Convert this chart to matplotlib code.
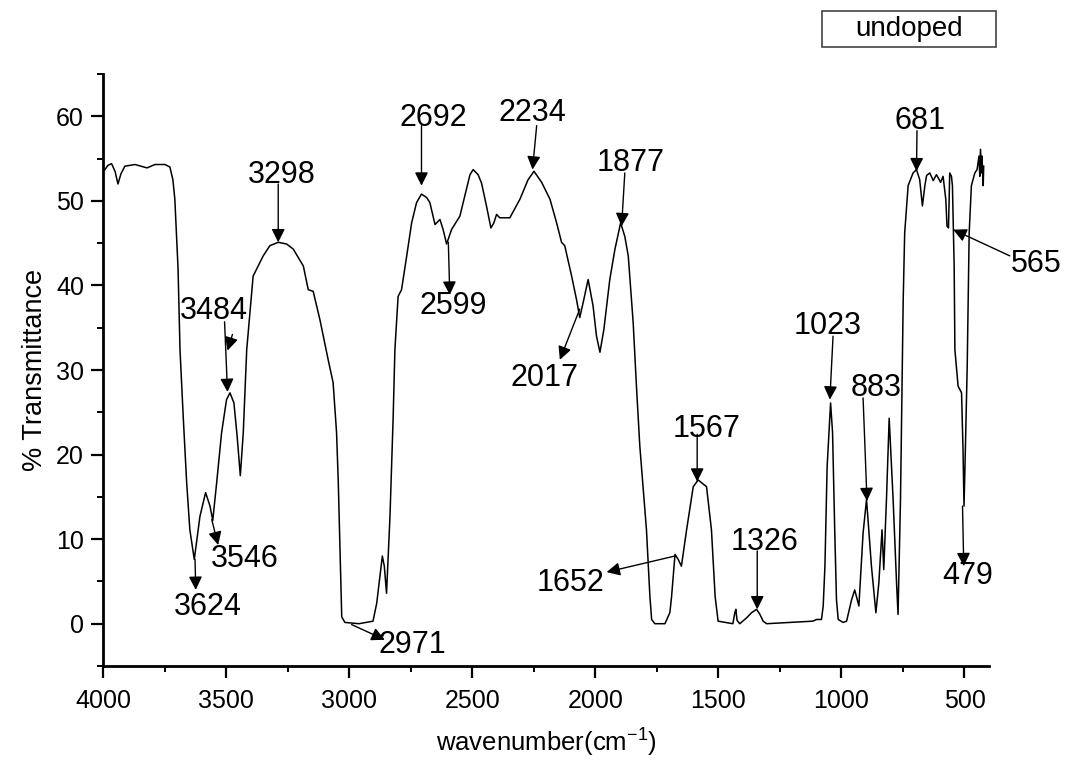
import matplotlib
matplotlib.use("Agg")
import matplotlib.pyplot as plt
from matplotlib.ticker import MultipleLocator
from matplotlib.patches import Rectangle

plt.rcParams['font.family'] = ['Liberation Sans', 'DejaVu Sans']
plt.rcParams['mathtext.fontset'] = 'custom'
plt.rcParams['mathtext.rm'] = 'Liberation Sans'
plt.rcParams['mathtext.it'] = 'Liberation Sans'

# FTIR spectrum (wavenumber cm^-1, % transmittance)
wavenumber = [3992, 3980, 3965, 3951, 3939, 3927, 3911, 3870, 3821, 3789, 3748, 3728, 3716, 3708,
              3695, 3687, 3674, 3660, 3647, 3629, 3606, 3583, 3565, 3554, 3538, 3518, 3498, 3484,
              3468, 3455, 3442, 3430, 3416, 3390, 3349, 3322, 3288, 3254, 3227, 3186, 3166, 3146,
              3119, 3085, 3065, 3051, 3044, 3037, 3030, 3017, 2960, 2903, 2888, 2875, 2865, 2857,
              2848, 2834, 2821, 2814, 2801, 2787, 2766, 2746, 2726, 2706, 2685, 2672, 2651, 2631,
              2618, 2604, 2584, 2550, 2530, 2509, 2496, 2476, 2462, 2442, 2424, 2412, 2401, 2388,
              2347, 2306, 2273, 2249, 2218, 2184, 2157, 2137, 2124, 2096, 2076, 2063, 2049, 2029,
              2009, 1995, 1981, 1965, 1941, 1920, 1897, 1880, 1866, 1846, 1832, 1819, 1792, 1778,
              1771, 1758, 1717, 1697, 1690, 1676, 1663, 1650, 1629, 1602, 1582, 1548, 1528, 1513,
              1501, 1441, 1433, 1429, 1424, 1413, 1385, 1365, 1345, 1331, 1318, 1304, 1116, 1101,
              1081, 1074, 1067, 1058, 1044, 1036, 1027, 1020, 1013, 993, 979, 959, 946, 929, 912,
              898, 878, 860, 848, 835, 828, 817, 806, 790, 776, 770, 760, 749, 743, 729, 709, 695,
              682, 671, 661, 654, 641, 627, 614, 597, 587, 576, 571, 565, 560, 553, 549, 542, 539,
              526, 512, 506, 502, 498, 489, 485, 481, 472, 458, 449, 441, 438, 435, 431, 429, 424, 422]
transmittance = [53.7, 54.2, 54.4, 53.5, 52.0, 53.2, 54.1, 54.3, 53.9, 54.3, 54.3, 54.0, 52.5, 50.2,
                 42.0, 32.4, 24.5, 16.7, 11.1, 7.6, 12.7, 15.5, 13.9, 12.2, 16.7, 22.6, 26.5, 27.3,
                 26.1, 22.2, 17.5, 22.6, 32.4, 41.1, 43.5, 44.7, 45.1, 44.9, 44.3, 42.3, 39.5, 39.3,
                 36.0, 31.2, 28.5, 22.6, 16.7, 8.8, 0.8, 0.15, 0.0, 0.3, 2.4, 5.6, 8.0, 6.8,
                 3.6, 12.7, 24.5, 32.4, 38.7, 39.5, 43.5, 47.4, 49.8, 50.8, 50.4, 49.8, 47.2, 47.8,
                 46.6, 44.9, 46.6, 48.2, 50.6, 53.1, 53.7, 53.1, 52.1, 49.4, 46.8, 47.4, 48.4, 48.0,
                 48.0, 50.2, 52.5, 53.5, 52.2, 50.2, 47.4, 45.1, 44.7, 41.1, 38.3, 36.2, 38.0, 40.7,
                 37.6, 34.0, 32.1, 34.8, 40.7, 44.3, 47.4, 45.8, 43.5, 35.6, 27.7, 21.0, 11.1, 3.2,
                 0.5, 0.0, 0.0, 1.3, 3.2, 8.2, 7.6, 6.8, 11.1, 16.2, 17.0, 16.2, 11.1, 3.2,
                 0.3, 0.0, 1.3, 1.7, 0.4, 0.0, 0.7, 1.3, 1.7, 1.1, 0.3, 0.0, 0.3, 0.5,
                 0.5, 2.1, 6.8, 18.6, 26.1, 22.6, 10.8, 2.8, 0.5, 0.15, 0.3, 2.8, 4.0, 2.1, 10.7,
                 14.7, 6.8, 1.3, 4.8, 11.1, 6.4, 14.7, 24.3, 14.7, 4.8, 1.1, 14.7, 38.3, 46.2, 51.8, 53.3, 53.7,
                 52.5, 49.4, 51.8, 53.0, 53.3, 52.4, 53.1, 52.2, 52.9, 50.2, 47.0, 46.8, 53.3, 52.9, 51.8, 42.3, 32.4,
                 28.1, 27.3, 20.6, 13.9, 18.6, 30.4, 38.3, 46.2, 51.8, 53.3, 53.7, 55.3, 52.9, 56.1, 53.3, 55.3, 51.8, 54.1]

# peak labels: text, text position, arrow start, arrow tip (data coords)
peak_labels = ['3298', '3484', '3546', '3624', '2971', '2692', '2599', '2234', '1877',
               '2017', '1567', '1652', '1326', '1023', '883', '479', '565', '681']
label_xy = [(3275, 53.1), (3549, 37.0), (3423, 7.6), (3574, 2.0), (2745, -2.5), (2656, 59.8),
            (2578, 37.6), (2257, 60.4), (1855, 54.5), (2205, 29.1), (1548, 23.0), (2099, 4.8),
            (1311, 9.7), (1055, 35.2), (860, 27.9), (487, 5.6), (210, 42.5), (682, 59.4)]
arrow_from = [(3288, 52.0), (3506, 35.7), (3558, 12.3), (3626, 7.6), (2990, -0.1), (2706, 58.9),
              (2597, 45.1), (2238, 58.9), (1880, 53.3), (2063, 37.2), (1586, 22.4), (1677, 8.0),
              (1342, 8.6), (1034, 34.0), (912, 26.7), (508, 13.9), (316, 43.5), (693, 58.3)]
arrow_to = [(3288, 45.1), (3494, 27.4), (3532, 9.3), (3623, 4.0), (2855, -1.9), (2706, 51.8),
            (2591, 38.9), (2255, 53.7), (1893, 47.0), (2144, 31.2), (1586, 16.8), (1954, 6.1),
            (1342, 1.7), (1047, 26.5), (896, 14.5), (503, 6.8), (546, 46.6), (695, 53.5)]

fig = plt.figure(figsize=(10.67, 7.6), dpi=100)
ax = fig.add_axes([0.0965, 0.1237, 0.8305, 0.7789])
ax.plot(wavenumber, transmittance, color='black', lw=1.1)

ax.set_xlim(4000, 400)
ax.set_ylim(-5, 65)
ax.xaxis.set_major_locator(MultipleLocator(500))
ax.xaxis.set_minor_locator(MultipleLocator(250))
ax.yaxis.set_major_locator(MultipleLocator(10))
ax.yaxis.set_minor_locator(MultipleLocator(5))
for s in ['top', 'right']:
    ax.spines[s].set_visible(False)
for s in ['left', 'bottom']:
    ax.spines[s].set_linewidth(2.0)
ax.tick_params(axis='both', which='major', direction='out', length=8.6, width=1.6, labelsize=18, pad=5)
ax.tick_params(axis='x', which='major', pad=8)
ax.tick_params(axis='both', which='minor', direction='out', length=4.5, width=1.4)

ax.set_xlabel('wavenumber(cm$^{\\mathrm{-1}}$)', fontsize=18.5, labelpad=10)
ax.set_ylabel('% Transmittance', fontsize=19.5, labelpad=6)

for lab, t, a0, a1 in zip(peak_labels, label_xy, arrow_from, arrow_to):
    ax.text(t[0], t[1], lab, fontsize=22, ha='center', va='center', clip_on=False)
    ax.annotate('', xy=a1, xytext=a0,
                arrowprops=dict(arrowstyle='-|>', color='black', lw=1.0,
                                mutation_scale=20, shrinkA=0, shrinkB=0),
                annotation_clip=False)
# stray small arrowhead near the 3484 label
ax.annotate('', xy=(3494, 32.3), xytext=(3474, 34.2),
            arrowprops=dict(arrowstyle='-|>', color='black', lw=1.0,
                            mutation_scale=20, shrinkA=0, shrinkB=0))

fig.patches.append(Rectangle((0.7704, 0.9382), 0.163, 0.0474, transform=fig.transFigure,
                             facecolor='white', edgecolor='#444444', lw=1.2))
fig.text(0.852, 0.962, 'undoped', fontsize=20, ha='center', va='center')

fig.savefig('out.png', dpi=100)
